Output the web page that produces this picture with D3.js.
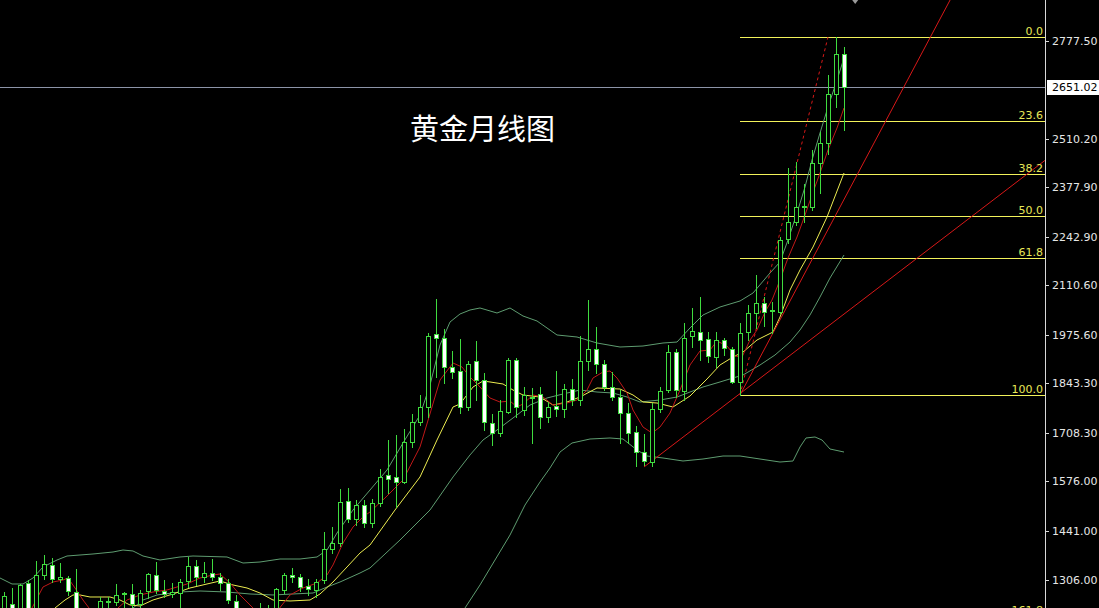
<!DOCTYPE html>
<html><head><meta charset="utf-8">
<script src="https://cdn.jsdelivr.net/npm/d3@7"></script>
<style>html,body{margin:0;padding:0;background:#000;overflow:hidden}</style>
</head><body><svg id="c" width="1099" height="608"></svg>
<script>
// ---- Data (monthly gold OHLC, index 0..105) ----
const opens=[1210.5,1240.5,1196.8,1297.8,1218.6,1319.7,1347.0,1308.7,1311.5,1273.2,
1207.7,1180.4,1218.6,1245.9,1245.9,1269.1,1267.8,1240.5,1276.0,1319.7,
1276.0,1267.8,1270.5,1303.3,1344.2,1314.2,1325.1,1314.2,1297.8,1248.7,
1210.5,1183.2,1202.3,1218.6,1224.1,1278.7,1319.7,1314.2,1289.6,1278.7,
1306.0,1390.6,1407.0,1521.7,1472.5,1510.7,1461.6,1516.2,1592.7,1587.2,
1573.5,1682.8,1737.3,1778.3,1977.6,1966.7,1887.5,1876.6,1778.3,1903.9,
1852.0,1734.6,1707.3,1764.6,1906.6,1770.1,1802.9,1813.8,1751.0,1781.0,
1772.8,1827.4,1797.4,1903.9,1936.6,1895.7,1832.9,1805.6,1761.9,1710.0,
1655.3,1628.1,1772.8,1824.7,1928.4,1822.0,1972.1,1983.0,1964.0,1914.8,
1961.2,1936.6,1846.6,1983.0,2034.9,2062.2,2040.4,2037.6,2236.9,2283.3,
2324.3,2324.3,2444.4,2499.0,2632.8,2742.0];
const highs=[1273.2,1284.2,1295.1,1306.0,1357.9,1374.3,1366.2,1352.4,1316.9,1336.0,
1221.4,1224.1,1259.6,1259.6,1295.1,1273.2,1295.1,1278.7,1325.1,1355.2,
1306.0,1297.8,1308.7,1368.8,1360.6,1355.2,1363.3,1325.1,1308.7,1265.1,
1221.4,1218.6,1243.2,1237.8,1284.2,1325.1,1338.8,1322.4,1308.7,1308.7,
1437.0,1450.7,1554.4,1557.2,1524.4,1524.4,1527.1,1609.0,1688.2,1701.9,
1718.2,1759.2,1811.1,1980.3,2073.1,1991.2,1931.2,1963.9,1903.9,1958.5,
1871.1,1759.2,1797.4,1912.1,1912.1,1832.9,1830.2,1832.9,1791.9,1876.6,
1841.1,1854.7,1972.1,2070.4,1996.7,1906.6,1873.8,1824.7,1789.2,1726.4,
1704.5,1789.2,1832.9,1947.6,1936.6,2007.6,2048.6,2078.6,1983.0,1983.0,
1966.7,1942.1,2007.6,2056.8,2138.6,2078.6,2064.9,2242.4,2430.8,2447.1,
2387.1,2479.9,2529.0,2684.6,2788.4,2760.0];
const lows=[1196.8,1169.5,1183.2,1175.0,1207.7,1308.7,1300.5,1300.5,1265.1,1191.3,
1153.1,1164.0,1210.5,1218.6,1237.8,1224.1,1232.3,1232.3,1256.9,1270.5,
1259.6,1259.6,1232.3,1287.0,1292.4,1300.5,1306.0,1278.7,1243.2,1196.8,
1164.0,1169.5,1183.2,1196.8,1218.6,1270.5,1300.5,1276.0,1265.1,1259.6,
1297.8,1379.7,1398.8,1464.3,1456.2,1450.7,1450.7,1508.0,1543.5,1505.3,
1570.8,1669.1,1729.2,1751.0,1860.2,1843.8,1857.5,1761.9,1770.1,1797.4,
1715.5,1674.6,1699.1,1761.9,1751.0,1756.4,1680.0,1721.0,1737.3,1753.7,
1751.0,1783.7,1783.7,1879.3,1871.1,1824.7,1797.4,1680.0,1680.0,1617.7,
1620.5,1617.7,1764.6,1819.2,1805.6,1797.4,1942.1,1906.6,1901.1,1887.5,
1920.3,1843.8,1811.1,1961.2,1994.0,1999.4,1980.3,2034.9,2226.0,2275.2,
2283.3,2316.1,2362.5,2469.7,2597.3,2534.5];
const closes=[1262.3,1183.2,1292.4,1185.9,1319.7,1349.7,1308.7,1314.2,1276.0,1207.7,
1180.4,1213.2,1248.7,1248.7,1265.1,1270.5,1240.5,1270.5,1322.4,1278.7,
1267.8,1273.2,1300.5,1344.2,1314.2,1325.1,1314.2,1297.8,1251.4,1210.5,
1183.2,1202.3,1224.1,1226.8,1281.4,1319.7,1314.2,1286.9,1281.4,1300.5,
1390.6,1407.0,1518.9,1472.5,1510.7,1461.6,1516.2,1587.2,1581.7,1573.5,
1682.7,1737.3,1778.3,1972.1,1966.7,1887.5,1873.8,1778.3,1895.7,1852.0,
1737.3,1707.3,1767.4,1906.6,1778.3,1811.1,1805.6,1751.0,1778.3,1772.8,
1827.4,1797.4,1903.9,1936.6,1895.7,1832.9,1805.6,1761.9,1707.3,1655.3,
1630.8,1772.8,1822.0,1928.4,1824.7,1966.7,1985.8,1961.2,1917.6,1961.2,
1939.4,1846.6,1980.3,2035.0,2062.2,2037.6,2043.1,2234.2,2283.3,2324.3,
2327.0,2444.4,2499.0,2632.8,2742.0,2651.02];

// indicator lines: [candle index, price]
const maFast=[[3.5,1229.6],[4.875,1286.9],[6.125,1300.5],[7.375,1306.0],[8,1311.5],[8.875,1284.2],[9.875,1251.4],[10.625,1229.6],[12,1191.3],[13.25,1202.3],[14.25,1229.6],[15.375,1251.4],[17,1265.1],[18.625,1273.2],[20.375,1278.7],[22.875,1295.1],[24.5,1311.5],[26.125,1319.7],[27,1322.4],[28.25,1297.8],[29.5,1265.1],[31.125,1229.6],[32.625,1196.8],[33.875,1213.2],[34.75,1237.8],[35.75,1265.1],[37.375,1284.2],[39.125,1297.8],[40.375,1319.7],[41.125,1347.0],[42.375,1407.0],[43.625,1450.7],[44.875,1478.1],[45.75,1491.8],[47.625,1529.9],[49.875,1579.0],[52,1669.1],[53.5,1778.3],[54.5,1852.0],[56.125,1898.4],[57.25,1887.5],[58.25,1860.2],[59.5,1832.9],[60.75,1802.9],[62,1791.9],[63.25,1794.7],[64.125,1778.3],[64.875,1786.5],[66.125,1811.1],[67.375,1805.6],[68.625,1783.7],[70.375,1789.2],[71.625,1797.4],[72.875,1824.7],[73.625,1857.5],[74.875,1873.8],[75.75,1876.6],[76.625,1857.5],[77.875,1816.5],[78.625,1770.1],[79.875,1723.6],[81,1707.3],[82,1723.6],[83.25,1761.9],[84.5,1824.7],[85.75,1893.0],[87,1931.2],[88.25,1933.9],[89.125,1958.5],[90.375,1944.8],[91.375,1917.6],[92.25,1914.8],[93.25,1961.2],[94.125,1988.5],[95.125,2037.6],[96,2070.4],[97,2125.0],[98,2185.1],[99.125,2242.4],[100.125,2302.4],[101,2357.1],[102,2417.1],[103,2479.9],[104.125,2540.0],[105,2594.6]];
const maSlow=[[6.375,1229.6],[7.625,1251.4],[8.625,1265.1],[9.5,1265.1],[10.75,1259.6],[13.25,1259.6],[14.5,1251.4],[15.75,1237.8],[17,1235.0],[18.625,1251.4],[21.125,1267.8],[23.25,1284.2],[25.375,1295.1],[27,1303.3],[28.625,1292.4],[30.375,1284.2],[32,1270.5],[33.625,1251.4],[35.75,1248.7],[38.25,1251.4],[39.5,1267.8],[41.125,1300.5],[42.875,1341.5],[44.5,1379.7],[45.75,1401.5],[48.875,1497.1],[52,1587.2],[54.125,1688.2],[56.125,1778.3],[57,1786.5],[58.625,1832.9],[59.875,1849.3],[60.75,1846.6],[62.375,1841.1],[63.625,1824.7],[64.875,1811.1],[67,1805.6],[68.625,1783.7],[70.375,1791.9],[72,1805.6],[74.125,1830.2],[77,1827.4],[78.625,1811.1],[79.875,1791.9],[81.625,1789.2],[83.625,1778.3],[85.75,1808.3],[87.875,1854.7],[89.5,1893.0],[91.125,1914.8],[92.375,1928.4],[94.125,1961.2],[96.125,1983.0],[97,2024.0],[98.25,2097.7],[99.5,2152.3],[101.125,2215.1],[102.875,2297.0],[105,2417.1]];
const bbUpper=[[-0.5,1311.5],[1,1295.1],[2.375,1295.1],[3.625,1311.5],[4.875,1341.5],[6.625,1360.6],[7.875,1371.5],[11.125,1377.0],[13.625,1382.4],[14.875,1387.9],[16.125,1385.2],[17.375,1371.5],[19.5,1360.6],[22,1368.8],[23.625,1371.5],[27.875,1368.8],[29.875,1352.4],[32,1355.1],[34.5,1363.3],[37,1363.3],[39.125,1368.8],[40.375,1387.9],[41.625,1434.3],[43.625,1497.1],[45.75,1551.7],[47.875,1606.3],[49.875,1680.0],[52,1756.4],[53.25,1838.4],[54.5,1947.6],[55.75,2010.3],[57,2032.2],[58.25,2043.1],[59.5,2048.6],[61.625,2034.9],[63.25,2048.6],[64.875,2026.7],[66.625,2013.1],[69.125,1974.9],[71.625,1969.4],[74.125,1953.0],[77,1942.1],[79.875,1944.8],[82.375,1953.0],[84.125,1955.7],[85.75,1994.0],[87.375,2029.5],[89.5,2051.3],[92,2067.7],[93.625,2089.5],[95.75,2144.1],[97,2174.1],[98,2234.2],[99.125,2307.9],[100.125,2378.9],[101,2452.6],[102,2526.3],[103,2597.3],[104.125,2671.0],[105,2731.1]];
const bbMiddle=[[16.125,1229.6],[17.375,1251.4],[19.125,1265.1],[22,1273.2],[24.5,1276.0],[27.875,1273.2],[30.75,1267.8],[33.625,1265.1],[36.125,1267.8],[38.625,1270.5],[40.375,1286.9],[42,1300.5],[44.5,1325.1],[45.75,1338.8],[49.5,1415.2],[53.25,1497.1],[56.125,1587.2],[58.25,1647.3],[59.875,1688.2],[61.625,1715.5],[63.625,1748.3],[65.75,1783.7],[67.875,1802.9],[69.875,1813.8],[72,1824.7],[74.125,1819.2],[76.125,1816.5],[77.875,1805.6],[79.5,1791.9],[82,1797.4],[84.125,1805.6],[85.75,1819.2],[87.375,1832.9],[89.5,1846.6],[91.125,1857.5],[92.375,1865.6],[94.5,1893.0],[96.375,1920.3],[98.25,1955.7],[99.5,1988.5],[100.75,2029.5],[102,2078.6],[103.25,2130.5],[105,2193.2]];
const bbLower=[[57.625,1229.6],[59.5,1292.4],[61.375,1360.6],[63.25,1428.8],[65.125,1510.7],[67,1573.5],[68.25,1611.8],[69.5,1655.4],[71,1680.0],[73.25,1690.9],[75.75,1693.7],[77.375,1690.9],[79.125,1660.9],[80.375,1644.5],[82.375,1639.1],[84.875,1630.9],[87.375,1636.3],[89.875,1644.5],[92,1644.5],[94.5,1636.3],[97,1628.1],[98.625,1630.9],[99.5,1669.1],[100.25,1693.7],[101.375,1696.4],[102.25,1688.2],[103.25,1663.6],[105,1655.4]];

// drawn objects
const trend1=[[80,1614.5],[135,2533.0]];
const trend2=[[92,1811.1],[120,2960.8]];
const fibAnchor=[[92,1811.1],[103,2788.4]];
const fibLabels=["0.0","23.6","38.2","50.0","61.8","100.0","161.8"];
const fibPrices=[2788.4,2557.8,2415.1,2299.8,2184.4,1811.1,1207.4];
const fibStart=92;
const tickLabels=["2777.50","2510.20","2377.90","2242.90","2110.60","1975.60","1843.30","1708.30","1576.00","1441.00","1306.00"];
const lastPrice=2651.02;
const title="黄金月线图";

// ---- Drawing ----
const W=1099,H=608,axisX=1045;
const svg=d3.select("#c");
svg.append("rect").attr("width",W).attr("height",H).attr("fill","#000");
const x=d3.scaleLinear().domain([0,105]).range([4,844]);
const y=d3.scaleLinear().domain([1306,2777.5]).range([580,41]);

svg.append("defs").append("clipPath").attr("id","plot")
  .append("rect").attr("x",0).attr("y",0).attr("width",axisX).attr("height",H);
const g=svg.append("g").attr("clip-path","url(#plot)");

const line=d3.line().x(d=>x(d[0])).y(d=>y(d[1]));

// fib lines
fibPrices.forEach((p,i)=>{
  const yy=Math.round(y(p))+0.5;
  g.append("line").attr("x1",x(fibStart)).attr("x2",axisX).attr("y1",yy).attr("y2",yy)
    .attr("stroke","#f2f25a").attr("stroke-width",1);
});
// current price line
{
  const yy=Math.round(y(lastPrice))+0.5;
  g.append("line").attr("x1",0).attr("x2",axisX).attr("y1",yy).attr("y2",yy)
    .attr("stroke","#8c94a8").attr("stroke-width",1);
}

// bollinger
[bbUpper,bbMiddle,bbLower].forEach(d=>{
  g.append("path").attr("d",line(d)).attr("fill","none").attr("stroke","#5e9c70").attr("stroke-width",1);
});
// MAs
g.append("path").attr("d",line(maSlow)).attr("fill","none").attr("stroke","#ecec50").attr("stroke-width",1);
g.append("path").attr("d",line(maFast)).attr("fill","none").attr("stroke","#c01818").attr("stroke-width",1);

// trend lines
[trend1,trend2].forEach(d=>{
  g.append("path").attr("d",line(d)).attr("fill","none").attr("stroke","#d81818").attr("stroke-width",1);
});
g.append("path").attr("d",line(fibAnchor)).attr("fill","none").attr("stroke","#d81818")
  .attr("stroke-width",1).attr("stroke-dasharray","3,3");

// candles
const green="#3fdc3f";
const cg=g.append("g");
opens.forEach((o,i)=>{
  const c=closes[i],h=highs[i],l=lows[i];
  const cx=Math.round(x(i));
  cg.append("line").attr("x1",cx+0.5).attr("x2",cx+0.5)
    .attr("y1",Math.round(y(h))).attr("y2",Math.round(y(l))+1)
    .attr("stroke",green).attr("stroke-width",1);
  const yt=Math.round(y(Math.max(o,c))), yb=Math.round(y(Math.min(o,c)));
  const bull=c>=o;
  if(yb-yt<1){
    cg.append("line").attr("x1",cx-2).attr("x2",cx+3).attr("y1",yt+0.5).attr("y2",yt+0.5)
      .attr("stroke",green).attr("stroke-width",1);
  } else {
    cg.append("rect").attr("x",cx-1.5).attr("y",yt+0.5).attr("width",4).attr("height",yb-yt)
      .attr("fill",bull?"#000":"#ffffff").attr("stroke",green).attr("stroke-width",1);
  }
});

// title
svg.append("text").attr("x",410).attr("y",140).attr("fill","#ffffff")
  .attr("font-family","'Noto Sans CJK SC','Noto Sans',sans-serif").attr("font-size",29)
  .text(title);

// fib labels
fibPrices.forEach((p,i)=>{
  svg.append("text").attr("x",axisX-2).attr("y",Math.round(y(p))-2)
    .attr("text-anchor","end").attr("fill","#e8e858")
    .attr("font-family","'DejaVu Sans',sans-serif").attr("font-size",11)
    .text(fibLabels[i]);
});

// right axis
svg.append("line").attr("x1",axisX+0.5).attr("x2",axisX+0.5).attr("y1",0).attr("y2",H)
  .attr("stroke","#d8d8d8").attr("stroke-width",1);
tickLabels.forEach(t=>{
  const yy=Math.round(y(+t))+0.5;
  svg.append("line").attr("x1",axisX).attr("x2",axisX+4).attr("y1",yy).attr("y2",yy).attr("stroke","#d8d8d8");
  svg.append("text").attr("x",axisX+7).attr("y",yy).attr("dy","0.35em")
    .attr("fill","#e6e6e6").attr("font-family","'DejaVu Sans',sans-serif").attr("font-size",11)
    .text(t);
});
{
  const yy=Math.round(y(lastPrice));
  svg.append("rect").attr("x",axisX+2).attr("y",yy-7).attr("width",W-axisX-2).attr("height",15).attr("fill","#ffffff");
  svg.append("text").attr("x",axisX+7).attr("y",yy+0.5).attr("dy","0.35em")
    .attr("fill","#000").attr("font-family","'DejaVu Sans',sans-serif").attr("font-size",11)
    .text(lastPrice.toFixed(2));
}
// small marker at top
{
  const mx=x(106.4);
  svg.append("path").attr("d",`M${mx-3},0L${mx+3},0L${mx},4Z`).attr("fill","#9a9a9a");
}
</script>
</body></html>
